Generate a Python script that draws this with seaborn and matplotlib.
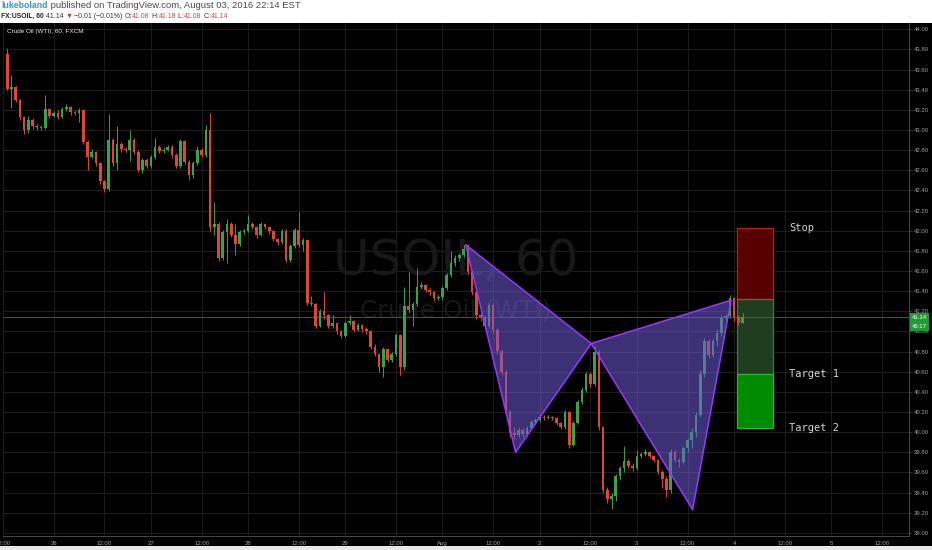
import matplotlib
matplotlib.use("Agg")
import matplotlib.pyplot as plt
from matplotlib.patches import Rectangle
from matplotlib.ticker import MultipleLocator, FormatStrFormatter
import numpy as np
import pandas as pd
import seaborn as sns

# hourly FX:USOIL candles, Jul 25 13:00 -> Aug 03 (bar index = hour of session)
first_open = 43.76
closes = [
    43.41, 43.43, 43.30, 43.13, 43.00, 43.10, 43.04, 43.03, 43.02, 43.21,
    43.14, 43.17, 43.13, 43.21, 43.23, 43.18, 43.17, 43.20, 42.88, 42.73,
    42.78, 42.67, 42.49, 42.41, 42.90, 42.67, 42.86, 42.81, 42.80, 42.90,
    42.78, 42.60, 42.70, 42.64, 42.73, 42.83, 42.79, 42.80, 42.83, 42.75,
    42.64, 42.89, 42.68, 42.55, 42.67, 42.80, 42.75, 43.00, 42.04, 42.07,
    41.73, 41.99, 42.07, 41.96, 41.87, 41.99, 42.00, 42.07, 42.04, 41.96,
    42.07, 42.04, 42.00, 41.92, 41.89, 42.00, 41.71, 41.85, 42.01, 41.86,
    41.91, 41.28, 41.27, 41.05, 41.20, 41.16, 41.05, 41.08, 41.00, 40.95,
    41.08, 41.10, 41.01, 41.06, 41.02, 41.00, 40.85, 40.78, 40.65, 40.83,
    40.72, 40.78, 40.96, 40.65, 41.25, 41.21, 41.27, 41.44, 41.46, 41.41,
    41.39, 41.33, 41.34, 41.43, 41.56, 41.68, 41.73, 41.76, 41.82, 41.59,
    41.39, 41.16, 41.14, 41.05, 41.26, 41.01, 40.81, 40.60, 40.20, 39.99,
    39.97, 40.02, 39.98, 40.04, 40.10, 40.12, 40.15, 40.14, 40.15, 40.14,
    40.09, 40.05, 40.20, 39.87, 40.09, 40.30, 40.42, 40.58, 40.48, 40.80,
    40.05, 39.42, 39.34, 39.37, 39.56, 39.64, 39.71, 39.66, 39.64, 39.76,
    39.78, 39.80, 39.76, 39.72, 39.60, 39.53, 39.42, 39.80, 39.72, 39.70,
    39.84, 39.92, 40.00, 40.17, 40.58, 40.90, 40.77, 40.90, 40.98, 41.13,
    41.15, 41.33, 41.14, 41.08, 41.14,
]
highs = [
    43.81, 43.55, 43.44, 43.31, 43.14, 43.14, 43.12, 43.06, 43.05, 43.35,
    43.22, 43.19, 43.20, 43.23, 43.26, 43.24, 43.20, 43.22, 43.21, 42.90,
    42.81, 42.79, 42.68, 42.50, 43.16, 42.92, 43.04, 42.88, 42.83, 43.00,
    42.92, 42.80, 42.72, 42.72, 42.75, 42.92, 42.85, 42.83, 42.85, 42.85,
    42.77, 42.91, 42.90, 42.70, 42.69, 42.84, 42.82, 43.05, 43.17, 42.29,
    42.09, 42.01, 42.12, 42.09, 42.07, 42.01, 42.02, 42.16, 42.09, 42.05,
    42.09, 42.08, 42.04, 42.01, 41.93, 42.02, 42.02, 41.87, 42.03, 42.19,
    41.93, 41.92, 41.35, 41.28, 41.22, 41.39, 41.17, 41.16, 41.08, 41.01,
    41.10, 41.16, 41.11, 41.08, 41.07, 41.04, 41.01, 40.87, 40.79, 40.85,
    40.84, 40.80, 40.98, 40.97, 41.44, 41.59, 41.29, 41.63, 41.49, 41.47,
    41.43, 41.40, 41.36, 41.45, 41.58, 41.80, 41.76, 41.78, 41.86, 41.87,
    41.61, 41.40, 41.18, 41.15, 41.28, 41.28, 41.03, 40.82, 40.62, 40.22,
    40.05, 40.05, 40.04, 40.06, 40.12, 40.14, 40.18, 40.17, 40.17, 40.16,
    40.15, 40.10, 40.22, 40.21, 40.11, 40.32, 40.45, 40.60, 40.60, 40.86,
    40.82, 40.06, 39.45, 39.40, 39.58, 39.66, 39.86, 39.73, 39.69, 39.82,
    39.80, 39.83, 39.81, 39.77, 39.73, 39.62, 39.56, 39.83, 39.82, 39.74,
    39.86, 39.94, 40.04, 40.20, 40.62, 40.93, 40.92, 40.93, 41.02, 41.16,
    41.17, 41.36, 41.34, 41.16, 41.18,
]
lows = [
    43.40, 43.22, 43.28, 43.10, 42.96, 42.97, 43.01, 43.00, 43.00, 43.01,
    43.12, 43.13, 43.11, 43.12, 43.19, 43.15, 43.15, 43.08, 42.86, 42.60,
    42.72, 42.64, 42.46, 42.38, 42.39, 42.64, 42.60, 42.78, 42.78, 42.69,
    42.76, 42.58, 42.57, 42.62, 42.62, 42.71, 42.77, 42.77, 42.79, 42.72,
    42.62, 42.62, 42.66, 42.50, 42.52, 42.65, 42.73, 42.73, 42.00, 41.96,
    41.70, 41.71, 41.68, 41.94, 41.76, 41.85, 41.97, 41.99, 42.02, 41.93,
    41.95, 42.02, 41.97, 41.90, 41.86, 41.87, 41.69, 41.69, 41.83, 41.84,
    41.80, 41.26, 41.25, 41.03, 41.04, 41.12, 41.03, 41.03, 40.97, 40.93,
    40.94, 41.06, 40.99, 41.00, 40.99, 40.97, 40.83, 40.76, 40.60, 40.55,
    40.70, 40.70, 40.76, 40.57, 40.62, 41.18, 41.05, 41.25, 41.42, 41.39,
    41.36, 41.30, 41.31, 41.31, 41.41, 41.54, 41.65, 41.70, 41.74, 41.57,
    41.36, 41.12, 41.10, 41.02, 41.03, 40.98, 40.78, 40.57, 40.17, 39.95,
    39.93, 39.95, 39.95, 39.96, 40.03, 40.08, 40.10, 40.12, 40.13, 40.12,
    40.07, 40.03, 40.03, 39.84, 39.86, 40.08, 40.28, 40.40, 40.45, 40.46,
    40.02, 39.40, 39.30, 39.24, 39.32, 39.52, 39.60, 39.64, 39.61, 39.62,
    39.74, 39.76, 39.74, 39.70, 39.58, 39.44, 39.36, 39.40, 39.70, 39.65,
    39.68, 39.80, 39.84, 39.95, 40.15, 40.55, 40.74, 40.75, 40.86, 40.95,
    41.11, 41.13, 41.10, 41.06, 41.08,
]

# time axis labels (bar index where each label sits)
tick_idx = [-1, 11, 23, 34, 46, 57, 69, 80, 92, 103, 115, 126, 138, 149, 161, 172, 184, 195, 207]
tick_labels = ['12:00', '26', '12:00', '27', '12:00', '28', '12:00', '29', '12:00', 'Aug',
               '12:00', '2', '12:00', '3', '12:00', '4', '12:00', '5', '12:00']

# harmonic pattern X-A-B-C-D
pattern_idx = [108.5, 120.3, 138.2, 162.2, 171.3]
pattern_price = [41.86, 39.80, 40.88, 39.23, 41.31]

# position tool
box_idx = [172.8, 181.2]
stop_level = 42.03
entry_level = 41.32
target1_level = 40.58
target2_level = 40.04

last_price = 41.14
countdown = '45:17'

df = pd.DataFrame({'close': closes, 'high': highs, 'low': lows})
df['open'] = [first_open] + closes[:-1]
df['idx'] = np.arange(len(df))
df['up'] = df['close'] >= df['open']

sns.set_style('dark', rc={
    'axes.facecolor': 'black', 'figure.facecolor': 'black',
    'axes.grid': True, 'grid.color': '#1d1d1d', 'grid.linewidth': 0.6,
    'axes.edgecolor': '#4a4a4a', 'axes.axisbelow': True,
})
plt.rcParams['font.family'] = ['Liberation Sans', 'DejaVu Sans']

W, H = 932, 550
fig = plt.figure(figsize=(W / 100, H / 100), dpi=100, facecolor='black')
ax = fig.add_axes([3 / W, 14 / H, 906 / W, 513 / H])
ax.set_facecolor('black')

# header strip and bottom strip
fig.patches.append(Rectangle((0, 1 - 23 / H), 1, 23 / H, transform=fig.transFigure,
                             facecolor='white', edgecolor='none', zorder=-1))
fig.patches.append(Rectangle((0, 0), 1, 4 / H, transform=fig.transFigure,
                             facecolor='#e8e8e8', edgecolor='none', zorder=-1))

up_c, dn_c = '#37a447', '#e0472c'
colors = np.where(df['up'], up_c, dn_c)
hi = np.maximum(df['high'], np.maximum(df['open'], df['close']))
lo = np.minimum(df['low'], np.minimum(df['open'], df['close']))
ax.vlines(df['idx'], lo, hi, colors=colors, lw=0.7, zorder=2)
body = (df['close'] - df['open']).abs().clip(lower=0.008)
ax.bar(df['idx'], body, bottom=np.minimum(df['open'], df['close']), width=0.62,
       color=colors, linewidth=0, zorder=2)

# watermark
ax.text(0.5, 0.537, 'USOIL, 60', transform=ax.transAxes, fontsize=36, color='#181818',
        ha='center', va='center', zorder=1, family='DejaVu Sans')
ax.text(0.5, 0.440, 'Crude Oil (WTI)', transform=ax.transAxes, fontsize=18, color='#181818',
        ha='center', va='center', zorder=1, family='DejaVu Sans')
ax.text(0.0048, 0.984, 'Crude Oil (WTI), 60, FXCM', transform=ax.transAxes, fontsize=4.6,
        color='#e6e6e6', ha='left', va='center', zorder=6)

# last price line
ax.axhline(last_price, color='#2c7a30', lw=0.6, zorder=1.8)

# position boxes
ax.fill_between(box_idx, entry_level, stop_level, facecolor='#560000', edgecolor='#c41a1a', lw=0.9, zorder=1.5)
ax.fill_between(box_idx, target1_level, entry_level, facecolor='#213d20', edgecolor='#2f8a2f', lw=0.9, zorder=1.5)
ax.fill_between(box_idx, target2_level, target1_level, facecolor='#008b00', edgecolor='#3cb03c', lw=0.9, zorder=1.5)
for lab, lev in [('Stop', stop_level), ('Target 1', target1_level), ('Target 2', target2_level)]:
    ax.annotate(lab, xy=(box_idx[1], lev), xytext=(11.5, 0), textcoords='offset points',
                ha='left', va='center', fontsize=7.5, color='#d6d6d6', family='DejaVu Sans Mono', zorder=6)

# harmonic pattern
for tri in [(0, 1, 2), (2, 3, 4)]:
    ax.fill([pattern_idx[i] for i in tri], [pattern_price[i] for i in tri],
            color='#6f5bd6', alpha=0.55, lw=0, zorder=3)
seg_pairs = [(0, 1), (1, 2), (2, 0), (2, 3), (3, 4), (4, 2)]
seg = pd.DataFrame([(k, pattern_idx[i], pattern_price[i]) for k, p in enumerate(seg_pairs) for i in p],
                   columns=['seg', 'idx', 'price'])
sns.lineplot(data=seg, x='idx', y='price', units='seg', estimator=None, sort=False,
             color='#9b35ff', lw=1.1, ax=ax, zorder=4)

# axes
ax.set_xlim(-0.75, 213.4)
ax.set_ylim(38.968, 44.063)
ax.set_xticks(tick_idx, tick_labels)
ax.yaxis.tick_right()
ax.yaxis.set_major_locator(MultipleLocator(0.2))
ax.yaxis.set_major_formatter(FormatStrFormatter('%.2f'))
ax.tick_params(axis='both', length=2, width=0.5, pad=1.5, labelsize=4.3,
               colors='#4a4a4a', labelcolor='#a0a0a0')
ax.set_xlabel('')
ax.set_ylabel('')
for s in ['top', 'left']:
    ax.spines[s].set_visible(False)
for s in ['right', 'bottom']:
    ax.spines[s].set_color('#4a4a4a')
    ax.spines[s].set_linewidth(0.7)

# right axis labels
box_kw = dict(boxstyle='square,pad=0.3', fc='#1f9c33', ec='none')
ax.annotate(f'{last_price:.2f}', xy=(1, last_price), xycoords=('axes fraction', 'data'),
            xytext=(2.2, 0), textcoords='offset points', ha='left', va='center', fontsize=4.3,
            color='white', bbox=box_kw, annotation_clip=False, zorder=10)
ax.annotate(countdown, xy=(1, last_price), xycoords=('axes fraction', 'data'),
            xytext=(2.2, -6.8), textcoords='offset points', ha='left', va='center', fontsize=4.3,
            color='white', bbox=box_kw, annotation_clip=False, zorder=10)

# header text
renderer = fig.canvas.get_renderer()


def header_line(parts, y):
    x = 1
    for s, color, weight, size in parts:
        t = fig.text(x / W, 1 - y / H, s, color=color, fontweight=weight, fontsize=size,
                     ha='left', va='center')
        x += t.get_window_extent(renderer).width


header_line([('lukeboland', '#2f95d6', 'bold', 6.3),
             (' published on TradingView.com, August 03, 2016 22:14 EST', '#4a4a4a', 'normal', 6.8)], 5.8)
header_line([('FX:USOIL, 60', '#222222', 'bold', 4.9), (' 41.14 ', '#333333', 'normal', 5.0),
             ('▼', '#d32f2f', 'normal', 5.0), (' −0.01 (−0.01%) ', '#333333', 'normal', 5.0),
             ('O:', '#333333', 'normal', 5.0), ('41.08', '#e04040', 'normal', 5.0),
             (' H:', '#333333', 'normal', 5.0), ('41.18', '#e04040', 'normal', 5.0),
             (' L:', '#333333', 'normal', 5.0), ('41.08', '#e04040', 'normal', 5.0),
             (' C:', '#333333', 'normal', 5.0), ('41.14', '#e04040', 'normal', 5.0)], 16)

fig.savefig('out.png', dpi=100, facecolor=fig.get_facecolor())
